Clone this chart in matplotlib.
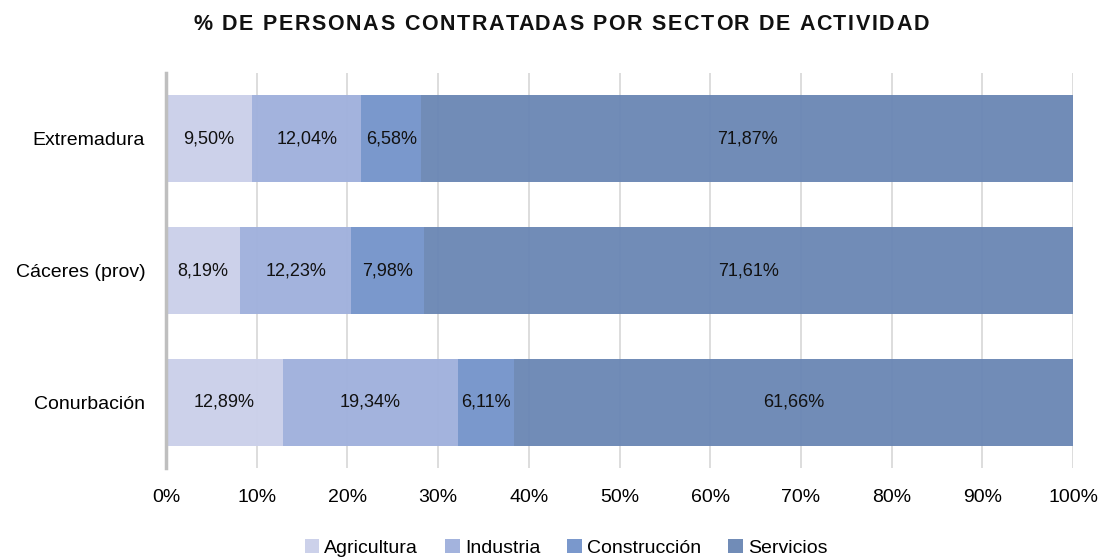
import matplotlib
matplotlib.use("Agg")
import matplotlib.pyplot as plt
from matplotlib import font_manager
from matplotlib.font_manager import FontProperties
import numpy as np

names = {f.name for f in font_manager.fontManager.ttflist}
fam = ["Liberation Sans Narrow", "Liberation Sans", "DejaVu Sans"]
fam = [f for f in fam if f in names] + ["DejaVu Sans"]
plt.rcParams['font.family'] = fam

categories = ["Extremadura", "Cáceres (prov)", "Conurbación"]
series = ["Agricultura", "Industria", "Construcción", "Servicios"]
agricultura = [9.50, 8.19, 12.89]
industria = [12.04, 12.23, 19.34]
construccion = [6.58, 7.98, 6.11]
servicios = [71.87, 71.61, 61.66]
colors = ["#CBD0EA", "#A0B1DC", "#7695CB", "#6C88B5"]
title = "% DE PERSONAS CONTRATADAS POR SECTOR DE ACTIVIDAD"

W, H = 1099, 559
fig = plt.figure(figsize=(W / 100, H / 100), dpi=100)
ax = fig.add_axes([166 / W, 1 - 468 / H, (1073 - 166) / W, (468 - 73) / H])

ypos = np.array([2, 1, 0])
left = np.zeros(3)
for name, vals, c in zip(series, [agricultura, industria, construccion, servicios], colors):
    vals = np.array(vals)
    ax.barh(ypos, vals, left=left, height=0.66, color=c, alpha=0.97, label=name, zorder=3)
    for y, l, v in zip(ypos, left, vals):
        ax.text(l + v / 2, y, f"{v:.2f}%".replace(".", ","), ha="center", va="center",
                fontsize=13, color="#111111", zorder=4)
    left += vals

ax.set_xlim(0, 100)
ax.set_ylim(-0.5, 2.5)
ax.set_xticks(np.arange(0, 101, 10))
ax.set_xticklabels([f"{t}%" for t in range(0, 101, 10)], fontsize=14)
ax.set_yticks(ypos)
ax.set_yticklabels(categories, fontsize=14)
ax.tick_params(axis="x", length=0, pad=15)
ax.tick_params(axis="y", length=0, pad=15)
ax.grid(axis="x", color="#DDDDDD", linewidth=1.4, zorder=0)
for s in ["top", "right", "bottom"]:
    ax.spines[s].set_visible(False)
ax.spines["left"].set_color("#BFBFBF")
ax.spines["left"].set_linewidth(2.5)
ax.spines["left"].set_zorder(5)

# Title with letter spacing
renderer = fig.canvas.get_renderer()
prop = FontProperties(family=fam, weight="bold", size=15.5)
target_w = 736.0
bar_w = renderer.get_text_width_height_descent("|", prop, ismath=False)[0]
nat_w = renderer.get_text_width_height_descent(title, prop, ismath=False)[0]
n = len(title)
extra = max(0.0, (target_w - nat_w) / (n - 1))
x0 = 561 - (nat_w + extra * (n - 1)) / 2
for i, ch in enumerate(title):
    if ch == " ":
        continue
    pre_w = (renderer.get_text_width_height_descent(title[:i] + "|", prop, ismath=False)[0] - bar_w) if i > 0 else 0
    x = x0 + pre_w + i * extra
    fig.text(x / W, 1 - 25 / H, ch, fontproperties=prop, ha="left", va="center", color="#111111")

fig.legend(loc="center", bbox_to_anchor=(566 / W, 1 - 548 / H), ncol=4, frameon=False, fontsize=14,
           handlelength=0.75, handleheight=0.75, handletextpad=0.25, columnspacing=1.4)

fig.savefig("out.png", dpi=100)
